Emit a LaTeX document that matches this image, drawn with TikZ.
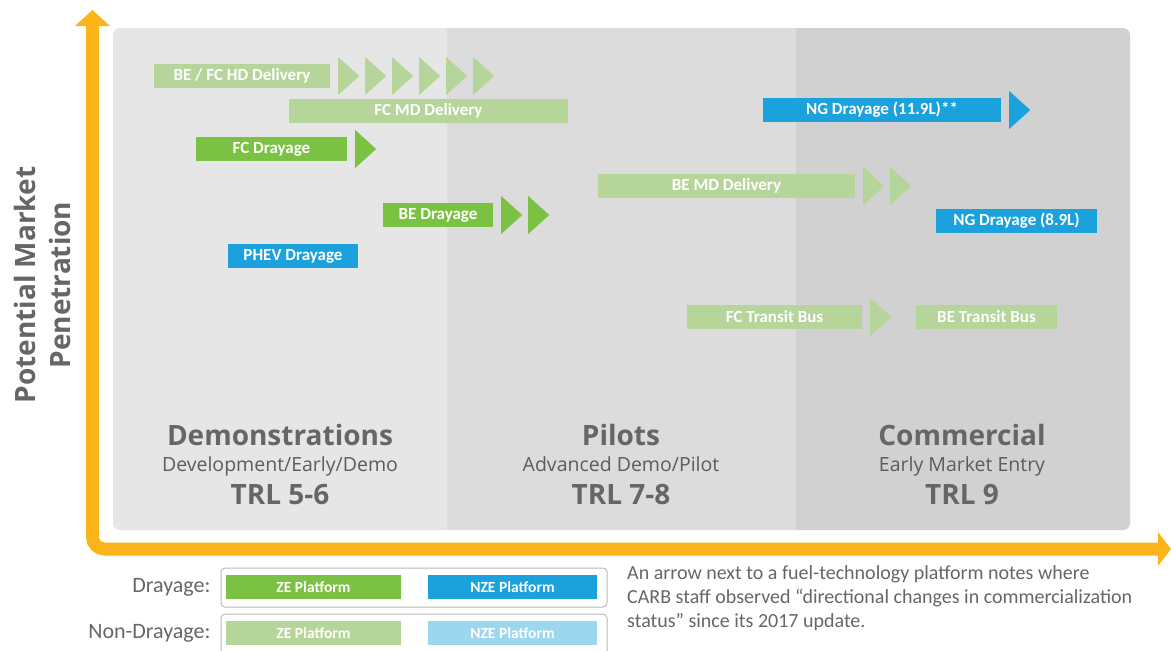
\documentclass[tikz,border=0pt]{standalone}
\usepackage{fontspec}
\setmainfont{Carlito}
\newfontfamily\headfont{Open Sans}
\usetikzlibrary{positioning}
\definecolor{zegreen}{HTML}{7BC143}
\definecolor{zelight}{HTML}{B5D59A}
\definecolor{nzeblue}{HTML}{1BA1DC}
\definecolor{nzelight}{HTML}{9DD6EF}
\definecolor{axisorange}{HTML}{FBB41A}
\definecolor{panelone}{HTML}{E6E6E6}
\definecolor{paneltwo}{HTML}{DCDCDC}
\definecolor{panelthree}{HTML}{D1D1D1}
\definecolor{labelgray}{HTML}{666666}
\tikzset{
  platform/.style={rectangle, inner sep=0pt, minimum height=24pt, text=white,
    font=\fontsize{17}{18}\selectfont\bfseries},
  ze/.style={platform, fill=zegreen},
  zelt/.style={platform, fill=zelight},
  nze/.style={platform, fill=nzeblue},
  nzelt/.style={platform, fill=nzelight},
  legendbar/.style={font=\fontsize{15.5}{16}\selectfont\bfseries},
  stage/.style={anchor=base, text=labelgray, font=\headfont\fontsize{28}{32}\selectfont\bfseries},
  substage/.style={anchor=base, text=labelgray!90!black, font=\headfont\fontsize{19.5}{22}\selectfont},
  legendlabel/.style={anchor=east, text=labelgray, font=\fontsize{22}{24}\selectfont},
  legendframe/.style={draw=gray!55, line width=1pt, rounded corners=4pt},
}
\newcommand{\chevrons}[3]{%
  \foreach \i in {1,...,#2}
    \fill[#3] ([xshift={8+27*(\i-1)}]#1.east) ++(0,-19) -- ++(21,19) -- ++(-21,19) -- cycle;
}
\begin{document}
\begin{tikzpicture}[x=1pt,y=-1pt]
  \useasboundingbox (0,0) rectangle (1171,651);
  \fill[panelone, rounded corners=7pt] (113,28) rectangle (1130,530);
  \fill[paneltwo] (447,28) rectangle (796,530);
  \fill[panelthree] (796,28) [rounded corners=7pt] -- (1130,28) -- (1130,530) [sharp corners] -- (796,530) -- cycle;

  \coordinate (origin) at (92.5,549);
  \coordinate (ytop) at (92.5,26);
  \coordinate (xend) at (1158,549);
  \draw[axisorange, line width=13pt, rounded corners=12pt] (ytop) -- (origin) -- (xend);
  \fill[axisorange] (ytop) ++(-17.5,0) -- ++(35,0) -- ++(-17.5,-16) -- cycle;
  \fill[axisorange] (xend) ++(0,-17) -- ++(0,34) -- ++(13,-17) -- cycle;

  \node[rotate=90, align=center, text=labelgray, font=\headfont\fontsize{28}{35}\selectfont\bfseries]
    (ylabel) at (42,285) {Potential Market\\Penetration};

  \node[zelt, minimum width=176] (hd) at (242,76) {BE / FC HD Delivery};
  \chevrons{hd}{6}{zelight}
  \node[zelt, minimum width=279] (fcmd) at (428.5,111) {FC MD Delivery};
  \node[ze, minimum width=151] (fcdray) at (271.5,149) {FC Drayage};
  \chevrons{fcdray}{1}{zegreen}
  \node[ze, minimum width=110] (bedray) at (438,215) {BE Drayage};
  \chevrons{bedray}{2}{zegreen}
  \node[nze, minimum width=130] (phev) at (293,256) {PHEV Drayage};
  \node[nze, minimum width=238] (ngbig) at (882,110) {NG Drayage (11.9L)**};
  \chevrons{ngbig}{1}{nzeblue}
  \node[zelt, minimum width=257] (bemd) at (726.5,186) {BE MD Delivery};
  \chevrons{bemd}{2}{zelight}
  \node[nze, minimum width=161] (ngsmall) at (1016.5,221) {NG Drayage (8.9L)};
  \node[zelt, minimum width=175] (fcbus) at (774.5,317) {FC Transit Bus};
  \chevrons{fcbus}{1}{zelight}
  \node[zelt, minimum width=141] (bebus) at (986.5,317) {BE Transit Bus};

  \foreach[count=\i] \x/\head/\sub/\trl in {280/Demonstrations/Development\slash Early\slash Demo/TRL 5-6,
      621/Pilots/Advanced Demo\slash Pilot/TRL 7-8, 962/Commercial/Early Market Entry/TRL 9} {
    \node[stage] (head\i) at (\x,445) {\head};
    \node[substage] (sub\i) at (\x,471) {\sub};
    \node[stage] (trl\i) at (\x,504) {\trl};
  }

  \draw[legendframe] (221,568) rectangle (607,607);
  \draw[legendframe] (221,614) rectangle (607,655);
  \node[legendlabel] (dray) at (214,587) {Drayage:};
  \node[legendlabel] (nondray) at (214,633) {Non-Drayage:};
  \node[ze, legendbar, minimum width=175] (zeleg) at (313.5,587) {ZE Platform};
  \node[nze, legendbar, minimum width=169] (nzeleg) at (512.5,587) {NZE Platform};
  \node[zelt, legendbar, minimum width=175] (zeltleg) at (313.5,633) {ZE Platform};
  \node[nzelt, legendbar, minimum width=169] (nzeltleg) at (512.5,633) {NZE Platform};

  \node[anchor=north west, align=left, inner sep=0pt, text=labelgray, font=\fontsize{20}{24}\selectfont]
    (note) at (627,565) {An arrow next to a fuel-technology platform notes where\\
    CARB staff observed “directional changes in commercialization\\
    status” since its 2017 update.};
\end{tikzpicture}
\end{document}
